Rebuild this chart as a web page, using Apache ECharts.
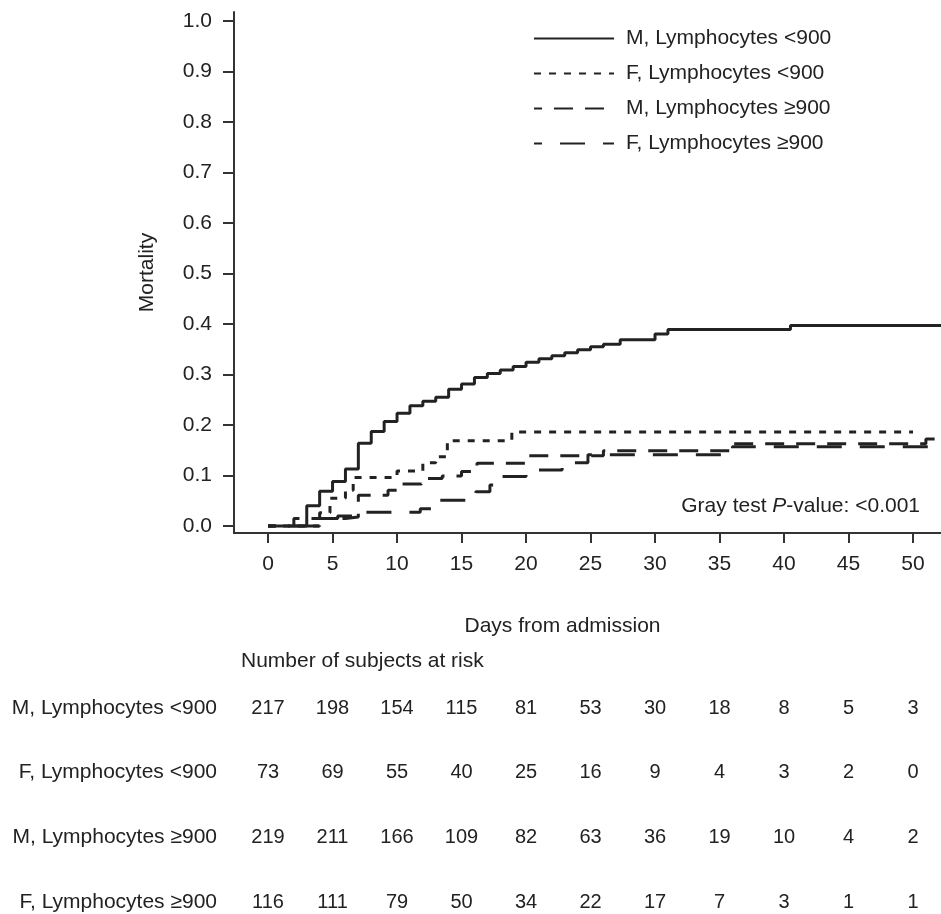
<!DOCTYPE html>
<html><head><meta charset="utf-8">
<script src="https://cdn.jsdelivr.net/npm/echarts@6/dist/echarts.min.js"></script>
<style>html,body{margin:0;padding:0;background:#fff}#c{width:941px;height:914px}</style>
</head><body><div id="c"></div>
<script>
// ---- data ----
const seriesNames = ['M, Lymphocytes <900', 'F, Lymphocytes <900', 'M, Lymphocytes \u2265900', 'F, Lymphocytes \u2265900'];

const mLowDays = [0, 3, 4, 5, 6, 7, 8, 9, 10, 11, 12, 13, 14, 15, 16, 17, 18, 19, 20, 21, 22, 23, 24, 25, 26, 27.3, 30, 31, 40.5, 53];
const mLowVals = [0, 0.040, 0.069, 0.088, 0.113, 0.164, 0.187, 0.207, 0.223, 0.238, 0.247, 0.255, 0.271, 0.281, 0.294, 0.302, 0.309, 0.316, 0.324, 0.331, 0.337, 0.343, 0.349, 0.355, 0.360, 0.369, 0.380, 0.389, 0.397, 0.397];

const fLowDays = [0, 4, 4.8, 6, 6.6, 10, 12, 13, 13.9, 18.9, 50];
const fLowVals = [0, 0.026, 0.055, 0.071, 0.096, 0.109, 0.125, 0.137, 0.169, 0.186, 0.186];

const mHighDays = [0, 2, 6, 7, 9.3, 10.1, 11.9, 13.5, 15, 16.2, 20, 26, 36, 51, 53];
const mHighVals = [0, 0.015, 0.018, 0.061, 0.071, 0.083, 0.094, 0.099, 0.108, 0.124, 0.139, 0.149, 0.163, 0.172, 0.172];

const fHighDays = [0, 4, 5.4, 6.9, 11.8, 13.3, 16.1, 17.2, 18.1, 20, 22.8, 24.8, 36, 53];
const fHighVals = [0, 0.015, 0.020, 0.027, 0.034, 0.051, 0.068, 0.081, 0.098, 0.111, 0.125, 0.141, 0.157, 0.157];

const xTicks = [0, 5, 10, 15, 20, 25, 30, 35, 40, 45, 50];
const yTicks = [0, 0.1, 0.2, 0.3, 0.4, 0.5, 0.6, 0.7, 0.8, 0.9, 1.0];

const riskMLow  = [217, 198, 154, 115, 81, 53, 30, 18, 8, 5, 3];
const riskFLow  = [73, 69, 55, 40, 25, 16, 9, 4, 3, 2, 0];
const riskMHigh = [219, 211, 166, 109, 82, 63, 36, 19, 10, 4, 2];
const riskFHigh = [116, 111, 79, 50, 34, 22, 17, 7, 3, 1, 1];

// ---- chart ----
const FONT = '"Liberation Sans", Arial, Helvetica, sans-serif';
const INK = '#222';
const AX = '#333';
const X_MIN = -2.64, X_MAX = 52.17;

const chart = echarts.init(document.getElementById('c'), null, {renderer: 'canvas'});

function pairs(days, vals) { return days.map((d, i) => [d, vals[i]]); }

const dashTypes = ['solid', [7, 8], [19, 12], [25, 18]];
const dashOffsets = [0, 0, 11, 17];
const curveData = [pairs(mLowDays, mLowVals), pairs(fLowDays, fLowVals), pairs(mHighDays, mHighVals), pairs(fHighDays, fHighVals)];
const riskData = [riskMLow, riskFLow, riskMHigh, riskFHigh];

const series = [];
seriesNames.forEach((name, k) => {
  series.push({
    name: name, type: 'line', step: 'end', symbol: 'none', showSymbol: false,
    xAxisIndex: 0, yAxisIndex: 0,
    data: curveData[k],
    lineStyle: {color: INK, width: 3, type: dashTypes[k], dashOffset: dashOffsets[k]},
    itemStyle: {color: INK},
    emphasis: {disabled: true},
    animation: false
  });
});
seriesNames.forEach((name, k) => {
  series.push({
    name: 'risk ' + k, type: 'scatter', xAxisIndex: 1, yAxisIndex: 1,
    symbolSize: 1, itemStyle: {color: 'rgba(0,0,0,0)'},
    data: xTicks.map((d, i) => [d, name, riskData[k][i]]),
    label: {show: true, position: 'inside', formatter: p => String(p.value[2]),
            color: INK, opacity: 1, textBorderWidth: 0, fontSize: 20, fontFamily: FONT},
    emphasis: {disabled: true},
    silent: true, animation: false
  });
});

chart.setOption({
  backgroundColor: '#fff',
  animation: false,
  textStyle: {fontFamily: FONT, color: INK},
  grid: [
    {left: 234, right: 0, top: 12, bottom: 381},
    {left: 234, right: 0, top: 708, height: 194}
  ],
  legend: {
    data: seriesNames, orient: 'vertical', left: 533, top: 28, padding: 0,
    itemWidth: 80, itemHeight: 14, itemGap: 14,
    itemStyle: {color: 'rgba(0,0,0,0)', borderWidth: 0, opacity: 0},
    textStyle: {fontSize: 21, color: INK, fontFamily: FONT, padding: [0, 0, 0, 7]},
    selectedMode: false
  },
  xAxis: [
    {
      type: 'value', gridIndex: 0, min: X_MIN, max: X_MAX,
      name: 'Days from admission', nameLocation: 'middle', nameGap: 83,
      nameTextStyle: {fontSize: 21, color: INK, fontFamily: FONT, padding: [0, 50, 0, 0]},
      axisLine: {show: true, onZero: false, lineStyle: {color: AX, width: 2}},
      axisTick: {show: true, length: 10, lineStyle: {color: AX, width: 2}, customValues: xTicks},
      axisLabel: {fontSize: 21, color: INK, fontFamily: FONT, margin: 21, customValues: xTicks, formatter: v => String(v)},
      splitLine: {show: false}
    },
    {
      type: 'value', gridIndex: 1, min: X_MIN, max: X_MAX, show: false
    }
  ],
  yAxis: [
    {
      type: 'value', gridIndex: 0, min: -0.0139, max: 1.0178,
      name: 'Mortality', nameLocation: 'middle', nameGap: 76,
      nameTextStyle: {fontSize: 21, color: INK, fontFamily: FONT},
      axisLine: {show: true, onZero: false, lineStyle: {color: AX, width: 2}},
      axisTick: {show: true, length: 11, lineStyle: {color: AX, width: 2}, customValues: yTicks},
      axisLabel: {fontSize: 21, color: INK, fontFamily: FONT, margin: 22, customValues: yTicks, formatter: v => v.toFixed(1)},
      splitLine: {show: false}
    },
    {
      type: 'category', gridIndex: 1, data: seriesNames, inverse: true, boundaryGap: false,
      axisLine: {show: false}, axisTick: {show: false},
      axisLabel: {fontSize: 21, color: INK, fontFamily: FONT, margin: 17},
      splitLine: {show: false}
    }
  ],
  graphic: [
    {type: 'text', left: 241, top: 651,
     style: {text: 'Number of subjects at risk', font: '21px ' + FONT, fill: INK}},
    {type: 'text', right: 21, top: 496,
     style: {text: '{a|Gray test }{b|P}{a|-value: <0.001}', fill: INK,
             rich: {a: {fontSize: 21, fontFamily: FONT, fill: INK, color: INK},
                    b: {fontSize: 21, fontFamily: FONT, fontStyle: 'italic', fill: INK, color: INK}}}}
  ],
  series: series
});
</script></body></html>
